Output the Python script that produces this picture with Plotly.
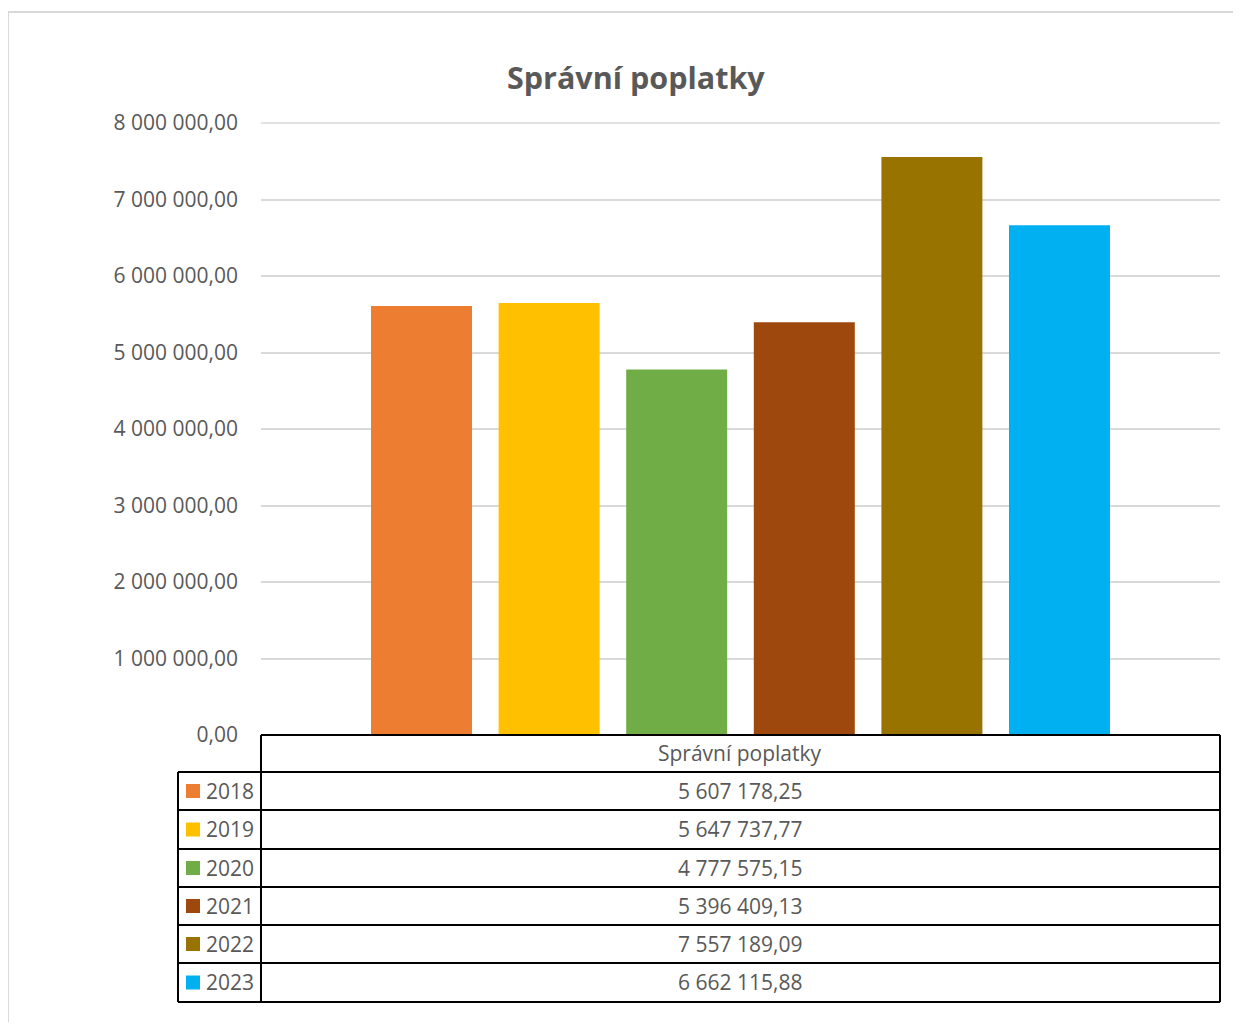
import plotly.graph_objects as go

# ---- data ----
category = "Správní poplatky"
years = ["2018", "2019", "2020", "2021", "2022", "2023"]
values = [5607178.25, 5647737.77, 4777575.15, 5396409.13, 7557189.09, 6662115.88]
colors = ["#ED7D31", "#FFC000", "#70AD47", "#9E480E", "#997300", "#00B0F0"]
y_ticks = [0, 1000000, 2000000, 3000000, 4000000, 5000000, 6000000, 7000000, 8000000]
title_text = "Správní poplatky"

# ---- geometry (page pixels) ----
OX, OY = 8, 8                 # browser body margin
W, H = 1241 - 2 * OX, 1030 - 2 * OY
PL, PR, PT, PB = 261, 1220, 123, 735   # plot area in page px
L, R, T, B = PL - OX, PR - OX, PT - OY, PB - OY
pw, ph = R - L, B - T


def px(x):
    return (x - OX - L) / pw


def py(y):
    return (B - (y - OY)) / ph


def fmt_cz(v):
    s = f"{v:,.2f}"
    return s.replace(",", " ").replace(".", ",")


FONT = "'Open Sans', Lato, sans-serif"
GREY = "#595959"
FS = 21

fig = go.Figure()
for yr, v, c in zip(years, values, colors):
    fig.add_trace(go.Bar(x=[category], y=[v], name=yr, marker=dict(color=c, line=dict(width=0))))

shapes = []
annotations = []

# outer chart border (light grey)
shapes.append(dict(type="line", xref="paper", yref="paper", x0=px(8), x1=px(1250), y0=py(12), y1=py(12),
                   line=dict(color="#d9d9d9", width=2)))
shapes.append(dict(type="line", xref="paper", yref="paper", x0=px(8), x1=px(8), y0=py(12), y1=py(1040),
                   line=dict(color="#d9d9d9", width=2)))

# top gridline (at range edge; paper-referenced so it is not clipped)
shapes.append(dict(type="line", xref="paper", yref="paper", x0=0, x1=1, y0=1, y1=1,
                   line=dict(color="#d9d9d9", width=1.5), layer="below"))

# data table
row_top = [735, 772, 810, 849, 887, 925, 963, 1002]
lc = dict(color="#000000", width=2)
shapes.append(dict(type="line", xref="paper", yref="paper", x0=px(261), x1=px(1220), y0=py(735), y1=py(735), line=lc))
for yy in row_top[1:]:
    shapes.append(dict(type="line", xref="paper", yref="paper", x0=px(178), x1=px(1220), y0=py(yy), y1=py(yy), line=lc))
shapes.append(dict(type="line", xref="paper", yref="paper", x0=px(261), x1=px(261), y0=py(735), y1=py(1002), line=lc))
shapes.append(dict(type="line", xref="paper", yref="paper", x0=px(1220), x1=px(1220), y0=py(735), y1=py(1002), line=lc))
shapes.append(dict(type="line", xref="paper", yref="paper", x0=px(178), x1=px(178), y0=py(772), y1=py(1002), line=lc))

annotations.append(dict(text=category, xref="paper", yref="paper", x=px(740), y=py(753.5),
                        showarrow=False, xanchor="center", yanchor="middle",
                        font=dict(family=FONT, size=FS, color=GREY)))
for i, (yr, v, c) in enumerate(zip(years, values, colors)):
    yc = (row_top[i + 1] + row_top[i + 2]) / 2
    shapes.append(dict(type="rect", xref="paper", yref="paper", x0=px(186), x1=px(200),
                       y0=py(yc - 7), y1=py(yc + 7), fillcolor=c, line=dict(width=0)))
    annotations.append(dict(text=yr, xref="paper", yref="paper", x=px(204), y=py(yc),
                            showarrow=False, xanchor="left", yanchor="middle",
                            font=dict(family=FONT, size=FS, color=GREY)))
    annotations.append(dict(text=fmt_cz(v), xref="paper", yref="paper", x=px(740), y=py(yc),
                            showarrow=False, xanchor="center", yanchor="middle",
                            font=dict(family=FONT, size=FS, color=GREY)))

# title
annotations.append(dict(text="<b>" + title_text + "</b>", xref="paper", yref="paper", x=px(636), y=py(77),
                        showarrow=False, xanchor="center", yanchor="middle",
                        font=dict(family=FONT, size=30.5, color=GREY)))

fig.update_layout(
    width=W, height=H, autosize=False,
    margin=dict(l=L, r=W - R, t=T, b=H - B, pad=0),
    paper_bgcolor="white", plot_bgcolor="white",
    barmode="group", bargap=0.2017, bargroupgap=0.2085,
    showlegend=False,
    separators=", ",
    font=dict(family=FONT, color=GREY),
    shapes=shapes, annotations=annotations,
)
fig.update_xaxes(showticklabels=False, showgrid=False, zeroline=False, showline=False, ticks="")
fig.update_yaxes(range=[0, 8000000], tickvals=y_ticks, tickformat=",.2f",
                 showgrid=True, gridcolor="#d9d9d9", gridwidth=1.5, zeroline=False, showline=False,
                 ticks="", ticklabelstandoff=22, tickfont=dict(family=FONT, size=FS, color=GREY))

fig.write_html("out.html")
